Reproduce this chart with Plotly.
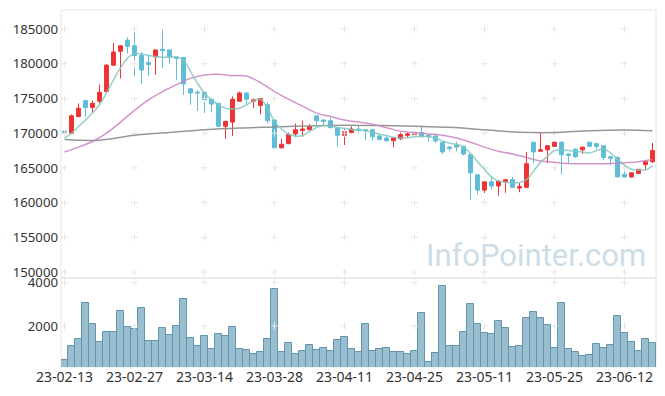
import plotly.graph_objects as go

dates = ["23-02-13", "23-02-14", "23-02-15", "23-02-16", "23-02-17", "23-02-20", "23-02-21", "23-02-22", "23-02-23", "23-02-24",
         "23-02-27", "23-02-28", "23-03-02", "23-03-03", "23-03-06", "23-03-07", "23-03-08", "23-03-09", "23-03-10", "23-03-13",
         "23-03-14", "23-03-15", "23-03-16", "23-03-17", "23-03-20", "23-03-21", "23-03-22", "23-03-23", "23-03-24", "23-03-27",
         "23-03-28", "23-03-29", "23-03-30", "23-03-31", "23-04-03", "23-04-04", "23-04-05", "23-04-06", "23-04-07", "23-04-10",
         "23-04-11", "23-04-12", "23-04-13", "23-04-14", "23-04-17", "23-04-18", "23-04-19", "23-04-20", "23-04-21", "23-04-24",
         "23-04-25", "23-04-26", "23-04-27", "23-04-28", "23-05-02", "23-05-03", "23-05-04", "23-05-08", "23-05-09", "23-05-10",
         "23-05-11", "23-05-12", "23-05-15", "23-05-16", "23-05-17", "23-05-18", "23-05-19", "23-05-22", "23-05-23", "23-05-24",
         "23-05-25", "23-05-26", "23-05-30", "23-05-31", "23-06-01", "23-06-02", "23-06-05", "23-06-07", "23-06-08", "23-06-09",
         "23-06-12", "23-06-13", "23-06-14", "23-06-15", "23-06-16"]

opens = [170300, 170000, 172400, 174700, 173700, 174600, 176000, 179800, 181800, 183400,
         182600, 181200, 180200, 181000, 182100, 182000, 181000, 180900, 176400, 175900,
         175900, 174900, 174300, 171000, 171600, 174600, 175800, 174600, 174000, 174100,
         171900, 167900, 168500, 169900, 170400, 170500, 172500, 171900, 171800, 170800,
         169700, 170100, 170600, 170500, 170500, 169600, 169300, 168900, 169200, 169700,
         169800, 170100, 169700, 169600, 168700, 168000, 168300, 168100, 166900, 164000,
         161800, 163000, 162400, 163000, 163300, 162100, 162200, 168700, 167400, 167600,
         168100, 168700, 167000, 167700, 167600, 168700, 168500, 168200, 166600, 166500,
         164100, 163700, 164200, 165500, 165900]
highs = [170500, 172700, 174300, 174700, 174700, 177000, 180000, 183000, 182700, 183800,
         185000, 181700, 181200, 182000, 184900, 182000, 181000, 180900, 176400, 176200,
         175900, 175000, 174300, 171800, 175300, 176000, 175800, 175000, 175000, 174500,
         172000, 169200, 170100, 171400, 171800, 171300, 172500, 172000, 172200, 170800,
         170700, 171000, 171100, 170600, 170600, 169800, 169700, 169400, 170100, 170100,
         170200, 171000, 169800, 169700, 168700, 168200, 168800, 168200, 167000, 164000,
         163000, 163800, 163200, 163400, 163700, 162800, 167300, 168700, 170000, 168300,
         168800, 168800, 167100, 167800, 168000, 168700, 168500, 168200, 166700, 166700,
         165500, 164400, 164800, 166000, 168600]
lows = [169800, 169900, 172300, 172400, 173000, 174300, 175900, 179700, 177900, 181500,
        178200, 177100, 178200, 178400, 179400, 180000, 177700, 175500, 174100, 173200,
        172900, 173000, 170900, 169200, 169600, 174500, 174100, 173600, 172700, 171400,
        167900, 167800, 168400, 169500, 169500, 170400, 171200, 171200, 170700, 168100,
        168300, 170000, 170100, 169000, 169000, 169000, 168800, 168000, 169000, 169300,
        169500, 169500, 168800, 168600, 167000, 167400, 167400, 166800, 160400, 161200,
        161400, 161900, 161000, 161400, 162100, 161500, 162100, 165600, 167300, 165700,
        168000, 164100, 165700, 166500, 167000, 168000, 167700, 166100, 165400, 163700,
        163600, 163600, 164100, 164800, 165700]
closes = [170100, 172500, 173600, 173700, 174300, 175900, 179800, 181700, 182600, 182500,
          181200, 179100, 179900, 182000, 181900, 181000, 180800, 177100, 175800, 175800,
          174800, 174200, 171000, 171700, 174900, 175800, 174900, 174800, 175000, 171800,
          167900, 168400, 169800, 170500, 170600, 171000, 171800, 171700, 170800, 169700,
          170200, 170600, 170400, 170400, 169500, 169100, 168900, 169300, 169800, 169900,
          170100, 169600, 169500, 168900, 167300, 167800, 168000, 167000, 164300, 161800,
          163000, 162400, 163100, 163300, 162200, 162300, 165600, 167300, 167600, 168200,
          168700, 166900, 166800, 166600, 168000, 168100, 168100, 166500, 166400, 163700,
          163700, 164300, 164800, 165900, 167500]
volumes = [444, 1085, 1405, 3039, 2092, 1268, 1725, 1725, 2687, 1939,
           1848, 2809, 1313, 1313, 1893, 1588, 2000, 3222, 1436, 1085,
           1542, 947, 1634, 1542, 1939, 947, 901, 718, 810, 1390,
           3680, 810, 1208, 718, 855, 1116, 901, 979, 855, 1359,
           1482, 932, 810, 2076, 855, 932, 979, 810, 810, 718,
           855, 2580, 338, 750, 3830, 1085, 1085, 1725, 3007, 2092,
           1695, 1634, 2229, 1893, 1025, 1085, 2351, 2625, 2351, 2031,
           993, 3039, 932, 810, 627, 673, 1176, 993, 1116, 2458,
           1695, 1268, 855, 1405, 1237]

ma5 = [169300, 170000, 170960, 171900, 172900, 174100, 175800, 177700, 179400, 180800,
       181500, 181400, 181200, 181050, 180950, 180950, 180950, 180550, 178900, 177200,
       175800, 174800, 174100, 173600, 173500, 173600, 174100, 174650, 174900, 173600,
       171700, 170600, 169850, 169600, 169650, 170250, 170800, 171100, 171050, 170800,
       170700, 170550, 170480, 170340, 170150, 169860, 169660, 169400, 169300, 169370,
       169500, 169500, 169500, 169300, 168900, 168560, 168400, 168000, 167100, 165900,
       164800, 163700, 163100, 162950, 162900, 162900, 163300, 164500, 165800, 166650,
       167500, 167550, 167500, 167350, 167300, 167150, 167500, 167750, 167150, 166250,
       165400, 164800, 164700, 164700, 165300]
ma20_dates = dates[::2]
ma20 = [167300, 168000, 168800, 170000, 171600, 173300, 174800, 176000, 177000, 177900,
        178400, 178500, 178300, 178250, 177300, 176000, 174900, 173900, 172900, 172400,
        171900, 171600, 171300, 170800, 170300, 170100, 169900, 169700, 169300, 168700,
        168000, 167400, 167000, 166500, 166000, 165800, 165650, 165600, 165600, 165650,
        165750, 165900, 166200]
ma60_dates = dates[::5] + [dates[-1]]
ma60 = [169100, 169000, 169700, 170100, 170500, 170750, 170900, 171050, 171150, 171100,
        171000, 170850, 170500, 170150, 170100, 170350, 170450, 170350]

tick_dates = dates[::10]
price_ticks = [150000, 155000, 160000, 165000, 170000, 175000, 180000, 185000]
vol_ticks = [2000, 4000]

UP = "#ee3333"
DOWN = "#5fbdd7"
VOL_SPLIT = 0.2493
GRID = "#e6e6e6"

fig = go.Figure()

fig.add_trace(go.Bar(
    x=dates, y=volumes, yaxis="y2",
    marker=dict(color="rgb(152,190,207)", line=dict(color="rgb(100,148,172)", width=1)),
    showlegend=False))

# grid crosses
fig.add_trace(go.Scatter(
    x=[d for d in tick_dates for _ in price_ticks],
    y=[p for _ in tick_dates for p in price_ticks],
    mode="markers", yaxis="y",
    marker=dict(symbol="cross-thin", size=5, line=dict(color=GRID, width=1)),
    hoverinfo="skip", showlegend=False))
fig.add_trace(go.Scatter(
    x=[d for d in tick_dates for _ in vol_ticks],
    y=[v for _ in tick_dates for v in vol_ticks],
    mode="markers", yaxis="y2",
    marker=dict(symbol="cross-thin", size=5, line=dict(color=GRID, width=1)),
    hoverinfo="skip", showlegend=False))

fig.add_trace(go.Candlestick(
    x=dates, open=opens, high=highs, low=lows, close=closes, yaxis="y",
    increasing=dict(line=dict(color=UP, width=1), fillcolor=UP),
    decreasing=dict(line=dict(color=DOWN, width=1), fillcolor=DOWN),
    whiskerwidth=0, showlegend=False))

fig.add_trace(go.Scatter(x=ma60_dates, y=ma60, mode="lines", yaxis="y",
                         line=dict(color="rgba(140,140,140,0.9)", width=1.5, shape="spline"),
                         showlegend=False))
fig.add_trace(go.Scatter(x=ma20_dates, y=ma20, mode="lines", yaxis="y",
                         line=dict(color="rgba(200,130,190,0.85)", width=1.5, shape="spline"),
                         showlegend=False))
fig.add_trace(go.Scatter(x=dates, y=ma5, mode="lines", yaxis="y",
                         line=dict(color="rgba(130,200,190,0.85)", width=1.5, shape="spline"),
                         showlegend=False))

# page body has an 8px margin: figure sized to fit the 665x396 window
fig.update_layout(
    width=649, height=380,
    margin=dict(l=53, r=1, t=2, b=21, autoexpand=False),
    paper_bgcolor="white", plot_bgcolor="white",
    font=dict(family="Noto Sans, sans-serif", color="#333333", size=13),
    bargap=0, boxgap=0.2,
    xaxis=dict(type="category", categoryorder="array", categoryarray=dates,
               range=[-0.5, len(dates) - 0.5], anchor="y2", automargin=False,
               tickmode="array", tickvals=tick_dates, ticktext=tick_dates, tickangle=0,
               showgrid=False, zeroline=False, showline=False, ticks="",
               tickfont=dict(size=14), rangeslider=dict(visible=False)),
    yaxis=dict(domain=[VOL_SPLIT, 1], range=[149140, 187750], automargin=False,
               tickmode="array", tickvals=price_ticks, tickformat="d", ticklabelstandoff=2,
               showgrid=False, zeroline=False, ticks="", tickfont=dict(size=13.2)),
    yaxis2=dict(domain=[0, VOL_SPLIT], range=[123, 4197], automargin=False,
                tickmode="array", tickvals=vol_ticks, tickformat="d", ticklabelstandoff=2,
                showgrid=False, zeroline=False, ticks="", tickfont=dict(size=13.2)),
    shapes=[
        dict(type="rect", xref="paper", yref="paper", x0=0, x1=1, y0=0, y1=1,
             line=dict(color="#e4e4e4", width=1), layer="below"),
        dict(type="line", xref="paper", yref="paper", x0=0, x1=1, y0=VOL_SPLIT, y1=VOL_SPLIT,
             line=dict(color="#e4e4e4", width=1.5), layer="below"),
    ],
    annotations=[dict(text="InfoPointer.com", xref="paper", yref="paper",
                      x=0.987, y=0.311, xanchor="right", yanchor="middle", showarrow=False,
                      font=dict(family="Roboto, sans-serif", size=31, color="rgba(190,212,226,0.8)"))],
)

fig.write_html("out.html")
